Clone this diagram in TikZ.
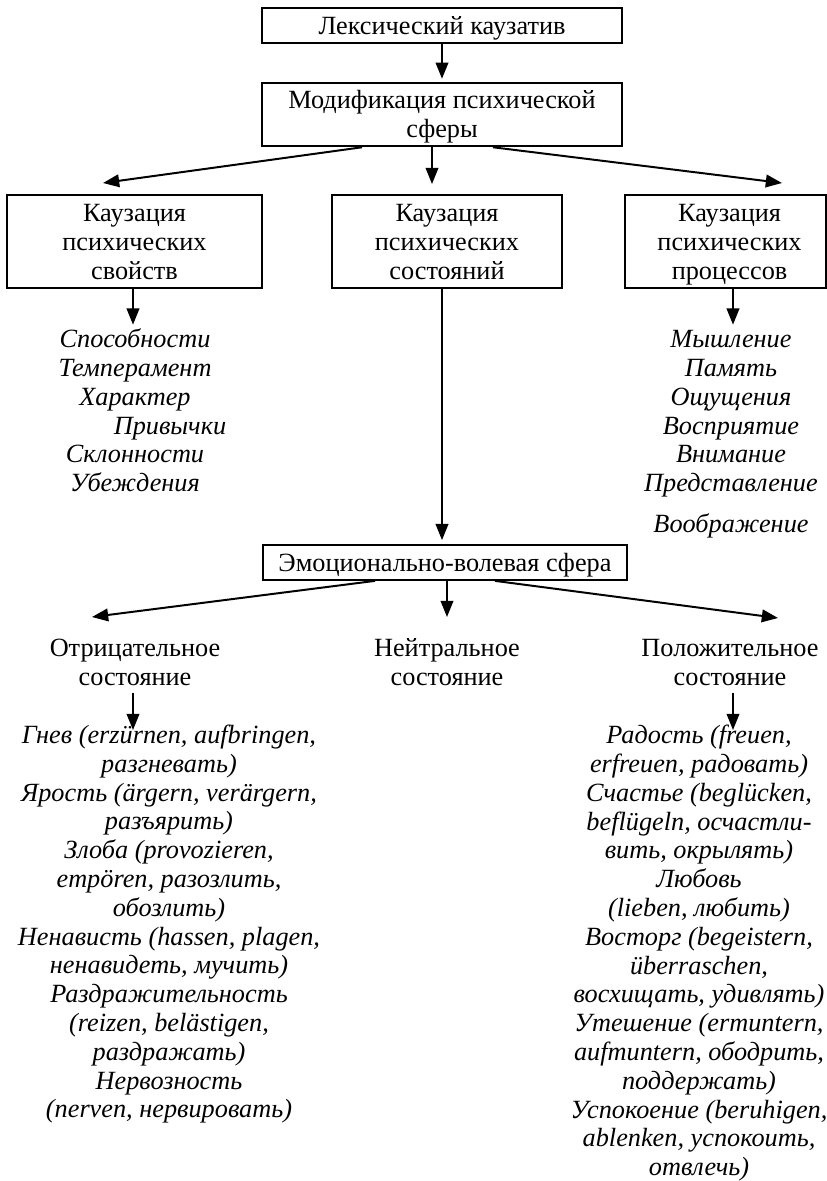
\documentclass[tikz,border=0pt]{standalone}
\usepackage{fontspec}
\setmainfont{Liberation Serif}
\usetikzlibrary{arrows.meta,calc}
\newcommand\pxu{0.5556pt}
\newcommand\myfont{\fontsize{14.6}{16}\selectfont}
\newcommand\tstr{\rule{0pt}{14.5pt}}
\begin{document}
\begin{tikzpicture}[x=0.5556pt,y=-0.5556pt,
  box/.style={draw,line width=1.1pt,inner sep=0pt,align=center,font=\myfont},
  lbl/.style={inner sep=0pt,align=center,font=\myfont},
  lst/.style={inner sep=0pt,align=center,font=\myfont\itshape},
  arr/.style={line width=1.1pt,-{Triangle[length=9pt,width=7pt]}}]
\useasboundingbox (0,0) rectangle (827,1181);

% boxes
\node[box,minimum width=360*\pxu,minimum height=31*\pxu] (lk) at (442,25.5) {\tstr Лексический каузатив\strut};
\node[box,minimum width=360*\pxu,minimum height=61*\pxu] (mod) at (442,114.5) {\tstr Модификация психической\\сферы\strut};
\node[box,minimum width=255*\pxu,minimum height=89*\pxu] (cb) at (134.5,241.5) {\tstr Каузация\\психических\\свойств\strut};
\node[box,minimum width=230*\pxu,minimum height=89*\pxu] (cs) at (447,241.5) {\tstr Каузация\\психических\\состояний\strut};
\node[box,minimum width=201*\pxu,minimum height=89*\pxu] (cp) at (725.5,241.5) {\tstr\hspace*{4.5pt}Каузация\\\hspace*{4.5pt}психических\\\hspace*{4.5pt}процессов\strut};
\node[box,minimum width=364*\pxu,minimum height=31*\pxu] (em) at (445,562.5) {\tstr Эмоционально-волевая сфера\strut};

% lists
\node[lst] (l1) at (135,414) {\strut Способности\\Темперамент\\Характер\\\hspace*{38.9pt}Привычки\\Склонности\\Убеждения\strut};
\node[lst] (l2) at (731,414) {\strut Мышление\\Память\\Ощущения\\Восприятие\\Внимание\\Представление\strut};
\node[lst] (l3) at (731,527) {\strut Воображение\strut};

\node[lbl] (neg) at (135,665) {\strut Отрицательное\\состояние\strut};
\node[lbl] (neu) at (447,665) {\strut Нейтральное\\состояние\strut};
\node[lbl] (pos) at (730,665) {\strut Положительное\\состояние\strut};

\node[lst] (nl) at (169,925) {\strut Гнев (erzürnen, aufbringen,\\разгневать)\\Ярость (ärgern, verärgern,\\разъярить)\\Злоба (provozieren,\\empören, разозлить,\\обозлить)\\Ненависть (hassen, plagen,\\ненавидеть, мучить)\\Раздражительность\\(reizen, belästigen,\\раздражать)\\Нервозность\\(nerven, нервировать)\strut};
\node[lst] (pl) at (699,954) {\strut Радость (freuen,\\erfreuen, радовать)\\Счастье (beglücken,\\beflügeln, осчастли-\\вить, окрылять)\\Любовь\\(lieben, любить)\\Восторг (begeistern,\\überraschen,\\восхищать, удивлять)\\Утешение (ermuntern,\\aufmuntern, ободрить,\\поддержать)\\Успокоение (beruhigen,\\ablenken, успокоить,\\отвлечь)\strut};

% free ends
\coordinate (t1) at (103,183);
\coordinate (t2) at (432,184);
\coordinate (t3) at (782,183);
\coordinate (t4) at (92,617);
\coordinate (t5) at (447,617);
\coordinate (t6) at (778,618);
\coordinate (n1s) at (133,693);
\coordinate (n1e) at (133,730);
\coordinate (p1s) at (733,693);
\coordinate (p1e) at (733,730);

% connectors
\draw[arr] (lk.south) -- ($(mod.north)+(0,-3)$);
\draw[arr] ($(mod.south)+(-80,0)$) -- (t1);
\draw[arr] ($(mod.south)+(-10,0)$) -- (t2);
\draw[arr] ($(mod.south)+(51,0)$) -- (t3);
\draw[arr] ($(cb.south)+(-1.5,0)$) -- ($(cb.south)+(-1.5,36)$);
\draw[arr] ($(cs.south)+(-5,0)$) -- ($(em.north)+(-3,-4)$);
\draw[arr] ($(cp.south)+(7.5,0)$) -- ($(cp.south)+(7.5,36)$);
\draw[arr] ($(em.south)+(-70,0)$) -- (t4);
\draw[arr] ($(em.south)+(2,0)$) -- (t5);
\draw[arr] ($(em.south)+(50,0)$) -- (t6);
\draw[arr] (n1s) -- (n1e);
\draw[arr] (p1s) -- (p1e);
\end{tikzpicture}
\end{document}
